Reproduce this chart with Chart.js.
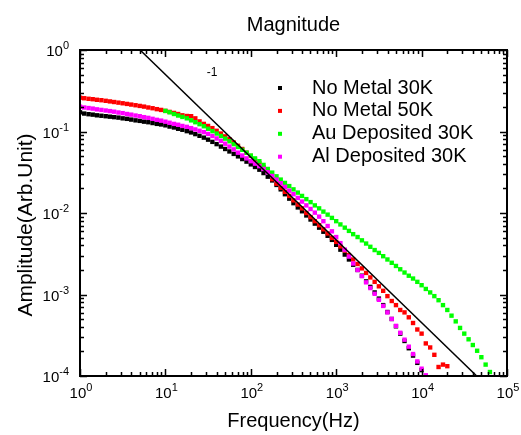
<!DOCTYPE html>
<html lang="en">
<head>
<meta charset="UTF-8">
<title>Magnitude</title>
<script src="https://cdn.jsdelivr.net/npm/chart.js@4"></script>
<style>
  body { margin: 0; background: #fff; }
  #chart { display: block; }
</style>
</head>
<body>
<canvas id="chart" width="521" height="435"></canvas>
<script>
// frequency grid (Hz), 20 points per decade
const freq = [
  1, 1.12, 1.26, 1.41, 1.58, 1.78, 2, 2.24, 2.51, 2.82, 3.16, 3.55, 3.98, 4.47, 5.01, 5.62, 6.31, 7.08, 7.94, 8.91,
  10, 11.2, 12.6, 14.1, 15.8, 17.8, 20, 22.4, 25.1, 28.2, 31.6, 35.5, 39.8, 44.7, 50.1, 56.2, 63.1, 70.8, 79.4, 89.1,
  100, 112, 126, 141, 158, 178, 200, 224, 251, 282, 316, 355, 398, 447, 501, 562, 631, 708, 794, 891,
  1000, 1120, 1260, 1410, 1580, 1780, 2000, 2240, 2510, 2820, 3160, 3550, 3980, 4470, 5010, 5620, 6310, 7080, 7940, 8910,
  10000, 11200, 12600, 14100, 15800, 17800, 20000, 22400, 25100, 28200, 31600, 35500, 39800, 44700, 50100, 56200, 63100
];

// amplitudes, one per freq entry from index 0
const noMetal30K = [
  0.172, 0.166, 0.163, 0.161, 0.158, 0.156, 0.154, 0.152, 0.150, 0.148, 0.145, 0.143, 0.140, 0.137, 0.135, 0.132, 0.130, 0.127, 0.124, 0.122,
  0.119, 0.115, 0.112, 0.108, 0.105, 0.101, 0.0973, 0.0929, 0.0885, 0.0841, 0.0794, 0.0746, 0.0700, 0.0653, 0.0610, 0.0569, 0.0531, 0.0495, 0.0459, 0.0427,
  0.0395, 0.0367, 0.0340, 0.0309, 0.0279, 0.0251, 0.0221, 0.0195, 0.0170, 0.0150, 0.0132, 0.0117, 0.0105, 0.00933, 0.00832, 0.00741, 0.00661, 0.00589, 0.00525, 0.00468,
  0.00407, 0.00355, 0.00309, 0.00269, 0.00232, 0.00200, 0.00170, 0.00145, 0.00124, 0.00106, 0.000891, 0.000741, 0.000610, 0.000501, 0.000407, 0.000331, 0.000269, 0.000219, 0.000178, 0.000145,
  0.000118
];
const noMetal50K = [
  0.260, 0.256, 0.252, 0.249, 0.245, 0.242, 0.238, 0.234, 0.230, 0.226, 0.222, 0.218, 0.214, 0.210, 0.206, 0.202, 0.197, 0.193, 0.188, 0.184,
  0.179, 0.174, 0.169, 0.164, 0.158, 0.155, 0.154, 0.145, 0.133, 0.124, 0.117, 0.110, 0.102, 0.0944, 0.0871, 0.0804, 0.0733, 0.0668, 0.0610, 0.0550,
  0.0501, 0.0452, 0.0407, 0.0363, 0.0324, 0.0260, 0.0229, 0.0204, 0.0182, 0.0162, 0.0143, 0.0127, 0.0114, 0.0100, 0.00891, 0.00794, 0.00708, 0.00631, 0.00562, 0.00495,
  0.00442, 0.00389, 0.00347, 0.00305, 0.00269, 0.00237, 0.00209, 0.00184, 0.00162, 0.00143, 0.00126, 0.00111, 0.000955, 0.000832, 0.000741, 0.000646, 0.000603, 0.000525, 0.000447, 0.000372,
  0.000331, 0.000251, 0.000224, 0.000182, 0.000129, 0.000138, 0.000132
];
// Au sample starts at 10 Hz (freq index 20)
const auStart = 20;
const auDeposited30K = [
  0.179, 0.172, 0.164, 0.157, 0.151, 0.145, 0.137, 0.130, 0.123, 0.116, 0.108, 0.101, 0.0944, 0.0881, 0.0818, 0.0759, 0.0700, 0.0646, 0.0596, 0.0550,
  0.0507, 0.0468, 0.0432, 0.0389, 0.0347, 0.0313, 0.0282, 0.0257, 0.0234, 0.0214, 0.0195, 0.0178, 0.0162, 0.0148, 0.0136, 0.0124, 0.0114, 0.0104, 0.00955, 0.00871,
  0.00794, 0.00724, 0.00661, 0.00603, 0.00550, 0.00507, 0.00462, 0.00422, 0.00385, 0.00351, 0.00324, 0.00295, 0.00269, 0.00245, 0.00224, 0.00204, 0.00186, 0.00170, 0.00157, 0.00143,
  0.00130, 0.00117, 0.00106, 0.000955, 0.000851, 0.000741, 0.000646, 0.000550, 0.000468, 0.000389, 0.000331, 0.000282, 0.000240, 0.000204, 0.000170, 0.000138, 0.000112
];
const alDeposited30K = [
  0.202, 0.197, 0.194, 0.191, 0.187, 0.184, 0.181, 0.178, 0.175, 0.171, 0.168, 0.164, 0.161, 0.157, 0.154, 0.150, 0.147, 0.143, 0.139, 0.136,
  0.132, 0.128, 0.124, 0.121, 0.117, 0.114, 0.110, 0.106, 0.102, 0.0982, 0.0933, 0.0881, 0.0822, 0.0767, 0.0708, 0.0653, 0.0603, 0.0550, 0.0507, 0.0468,
  0.0432, 0.0403, 0.0376, 0.0347, 0.0316, 0.0285, 0.0257, 0.0232, 0.0209, 0.0188, 0.0170, 0.0153, 0.0138, 0.0124, 0.0112, 0.0101, 0.00902, 0.00794, 0.00692, 0.00596,
  0.00507, 0.00427, 0.00355, 0.00292, 0.00240, 0.00200, 0.00168, 0.00141, 0.00120, 0.00102, 0.000861, 0.000724, 0.000603, 0.000501, 0.000412, 0.000339, 0.000279, 0.000229, 0.000186, 0.000151,
  0.000123, 0.000102
];

// slope -1 guide line end points
const slopeX = [5.05, 44200];
const slopeY = [1, 0.0001];

// axis decades as powers of ten
const xTickExp = [0, 1, 2, 3, 4, 5];
const yTickExp = [-4, -3, -2, -1, 0];

const seriesNames = ['No Metal 30K', 'No Metal 50K', 'Au Deposited 30K', 'Al Deposited 30K'];
const seriesColors = ['#000000', '#ff0000', '#00ff00', '#ff00ff'];

const FONT = 'Arial, "Liberation Sans", Helvetica, sans-serif';

function toPoints(values, start) {
  const pts = [];
  values.forEach((v, i) => pts.push({ x: freq[start + i], y: v }));
  return pts;
}

const seriesData = [
  toPoints(noMetal30K, 0),
  toPoints(noMetal50K, 0),
  toPoints(auDeposited30K, auStart),
  toPoints(alDeposited30K, 0)
];

const datasets = seriesData.map((pts, i) => ({
  label: seriesNames[i],
  data: pts,
  pointStyle: 'rect',
  pointRadius: 3.1,
  borderWidth: 0,
  backgroundColor: seriesColors[i],
  borderColor: seriesColors[i],
  showLine: false,
  order: 4 - i   // later series sit on top
}));

datasets.push({
  label: 'slope',
  data: slopeX.map((x, i) => ({ x, y: slopeY[i] })),
  showLine: true,
  pointRadius: 0,
  borderColor: '#000',
  borderWidth: 1.5,
  order: -1
});

// frame, inward ticks, tick labels, titles, legend
const axisFrame = {
  id: 'axisFrame',
  afterDatasetsDraw(chart) {
    const { ctx, chartArea: a, scales: { x, y } } = chart;
    ctx.save();
    ctx.strokeStyle = '#000';
    ctx.fillStyle = '#000';

    ctx.lineWidth = 1.5;
    ctx.beginPath();
    xTickExp.forEach(e => {
      for (let m = 1; m <= 9; m++) {
        const v = m * Math.pow(10, e);
        if (v > 1e5) break;
        const px = Math.round(x.getPixelForValue(v)) + 0.5;
        const len = m === 1 ? 7 : 4;
        ctx.moveTo(px, a.bottom); ctx.lineTo(px, a.bottom - len);
        ctx.moveTo(px, a.top); ctx.lineTo(px, a.top + len);
      }
    });
    yTickExp.forEach(e => {
      for (let m = 1; m <= 9; m++) {
        const v = m * Math.pow(10, e);
        if (v > 1) break;
        const py = Math.round(y.getPixelForValue(v)) + 0.5;
        const len = m === 1 ? 7 : 4;
        ctx.moveTo(a.left, py); ctx.lineTo(a.left + len, py);
        ctx.moveTo(a.right, py); ctx.lineTo(a.right - len, py);
      }
    });
    ctx.stroke();

    ctx.lineWidth = 2;
    ctx.strokeRect(a.left, a.top, a.right - a.left, a.bottom - a.top);

    // power-of-ten tick labels
    const baseFont = '15px ' + FONT;
    const expFont = '11px ' + FONT;
    xTickExp.forEach(e => {
      const px = x.getPixelForValue(Math.pow(10, e));
      ctx.font = baseFont;
      const wb = ctx.measureText('10').width;
      ctx.font = expFont;
      const we = ctx.measureText(String(e)).width;
      const left = px - (wb + we) / 2 + 1;
      ctx.textAlign = 'left';
      ctx.textBaseline = 'alphabetic';
      ctx.font = baseFont;
      ctx.fillText('10', left, 398);
      ctx.font = expFont;
      ctx.fillText(String(e), left + wb, 391);
    });
    yTickExp.forEach(e => {
      const py = y.getPixelForValue(Math.pow(10, e));
      const txt = String(e);
      ctx.font = expFont;
      const we = ctx.measureText(txt).width;
      ctx.font = baseFont;
      const wb = ctx.measureText('10').width;
      const right = 69;
      ctx.textAlign = 'left';
      ctx.textBaseline = 'alphabetic';
      ctx.fillText('10', right - we - wb, py + 6);
      ctx.font = expFont;
      ctx.fillText(txt, right - we, py - 1);
    });

    // title and axis titles
    const midX = (a.left + a.right) / 2;
    ctx.textAlign = 'center';
    ctx.textBaseline = 'alphabetic';
    ctx.font = '20px ' + FONT;
    ctx.fillText('Magnitude', midX, 31);
    ctx.fillText('Frequency(Hz)', midX, 427);
    ctx.save();
    ctx.translate(32, (a.top + a.bottom) / 2 + 12);
    ctx.rotate(-Math.PI / 2);
    ctx.font = '21px ' + FONT;
    ctx.fillText('Amplitude(Arb.Unit)', 0, 0);
    ctx.restore();

    // slope annotation
    ctx.font = '12px ' + FONT;
    ctx.textAlign = 'center';
    ctx.textBaseline = 'middle';
    ctx.fillText('-1', 212, 73);

    // legend
    ctx.font = '20px ' + FONT;
    ctx.textAlign = 'left';
    ctx.textBaseline = 'middle';
    seriesNames.forEach((name, i) => {
      const cy = 88 + i * 22.9;
      ctx.fillStyle = seriesColors[i];
      ctx.fillRect(278, cy - 2, 4, 4);
      ctx.fillStyle = '#000';
      ctx.fillText(name, 312, cy);
    });
    ctx.restore();
  }
};

new Chart(document.getElementById('chart'), {
  type: 'scatter',
  data: { datasets },
  options: {
    responsive: false,
    devicePixelRatio: 1,
    animation: false,
    events: [],
    layout: { padding: { left: 80, top: 50, right: 14, bottom: 59 } },
    plugins: { legend: { display: false }, tooltip: { enabled: false } },
    scales: {
      x: { type: 'logarithmic', min: 1, max: 100000, display: false },
      y: { type: 'logarithmic', min: 0.0001, max: 1, display: false }
    }
  },
  plugins: [axisFrame]
});
</script>
</body>
</html>
